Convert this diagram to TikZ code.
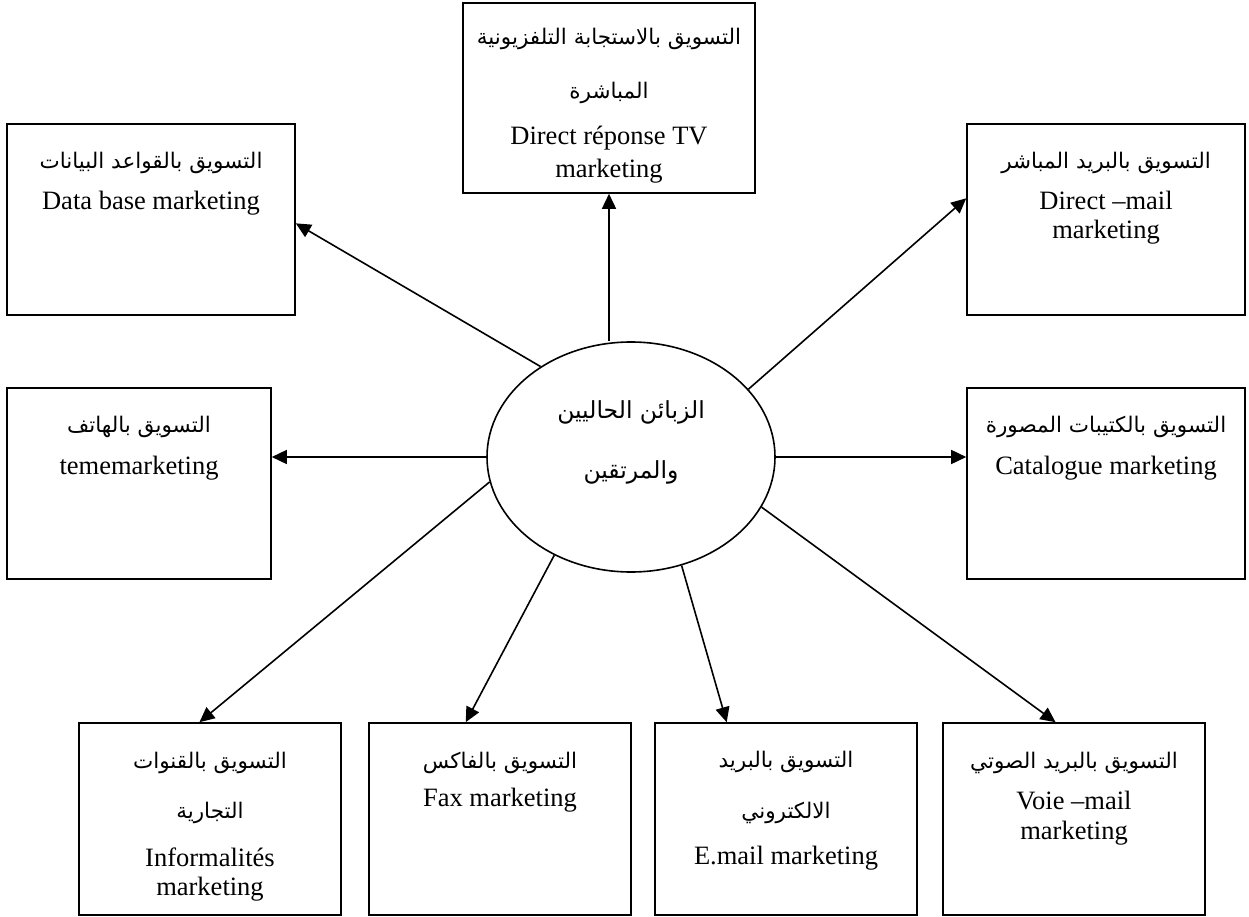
\documentclass[tikz,border=0pt]{standalone}
\usepackage{fontspec}
\setmainfont{Liberation Serif}
\newfontfamily\arabicfont[Script=Arabic]{DejaVu Sans}
\TeXXeTstate=1
\usetikzlibrary{shapes.geometric,arrows.meta,calc}
\newcommand{\artext}[1]{\beginR #1\endR}
\begin{document}
\begin{tikzpicture}[x=1pt,y=-1pt,
  box/.style={draw, line width=1.6pt, rectangle, minimum height=191pt, inner sep=0pt},
  oval/.style={draw, line width=1.6pt, ellipse, minimum width=288pt, minimum height=230pt, inner sep=0pt},
  arr/.style={line width=1.6pt, -{Triangle[length=15pt,width=14pt]}},
  lat/.style={anchor=base, inner sep=0pt, font=\fontsize{26.5}{30}\selectfont},
  arb/.style={anchor=base, inner sep=0pt, font=\arabicfont\fontsize{21.5}{26}\selectfont},
  big/.style={anchor=base, inner sep=0pt, font=\arabicfont\fontsize{23.5}{30}\selectfont}]
\useasboundingbox (0,0) rectangle (1249,917);
% boxes
\node[box, minimum width=292pt, minimum height=190pt] (tv) at (609,98) {};
\node[box, minimum width=288pt] (db) at (151,219.5) {};
\node[box, minimum width=278pt] (dm) at (1106,219.5) {};
\node[box, minimum width=264pt] (tel) at (139,483.5) {};
\node[box, minimum width=278pt] (cat) at (1106,483.5) {};
\node[box, minimum width=262pt, minimum height=192pt] (inf) at (210,819) {};
\node[box, minimum width=262pt, minimum height=192pt] (fax) at (500,819) {};
\node[box, minimum width=262pt, minimum height=192pt] (em) at (786,819) {};
\node[box, minimum width=262pt, minimum height=192pt] (vm) at (1074,819) {};
\node[oval] (c) at (631,457) {};
% centre text
\node[big] (c1) at (631,418) {\artext{الزبائن الحاليين}};
\node[big] (c2) at (631,478) {\artext{والمرتقين}};
% box texts
\node[arb] (tv1) at ($(tv.north)+(0,42)$) {\artext{التسويق بالاستجابة التلفزيونية}};
\node[arb] (tv2) at ($(tv.north)+(0,96)$) {\artext{المباشرة}};
\node[lat] (tv3) at ($(tv.north)+(0,142)$) {Direct réponse TV};
\node[lat] (tv4) at ($(tv.north)+(0,175)$) {marketing};
\node[arb] (db1) at ($(db.north)+(0,45)$) {\artext{التسويق بالقواعد البيانات}};
\node[lat] (db2) at ($(db.north)+(0,86)$) {Data base marketing};
\node[arb] (dm1) at ($(dm.north)+(0,45)$) {\artext{التسويق بالبريد المباشر}};
\node[lat] (dm2) at ($(dm.north)+(0,86)$) {Direct –mail};
\node[lat] (dm3) at ($(dm.north)+(0,115)$) {marketing};
\node[arb] (tel1) at ($(tel.north)+(0,45)$) {\artext{التسويق بالهاتف}};
\node[lat] (tel2) at ($(tel.north)+(0,87)$) {tememarketing};
\node[arb] (cat1) at ($(cat.north)+(0,45)$) {\artext{التسويق بالكتيبات المصورة}};
\node[lat] (cat2) at ($(cat.north)+(0,87)$) {Catalogue marketing};
\node[arb] (inf1) at ($(inf.north)+(0,46)$) {\artext{التسويق بالقنوات}};
\node[arb] (inf2) at ($(inf.north)+(0,96)$) {\artext{التجارية}};
\node[lat] (inf3) at ($(inf.north)+(0,144)$) {Informalités};
\node[lat] (inf4) at ($(inf.north)+(0,173)$) {marketing};
\node[arb] (fax1) at ($(fax.north)+(0,46)$) {\artext{التسويق بالفاكس}};
\node[lat] (fax2) at ($(fax.north)+(0,84)$) {Fax marketing};
\node[arb] (em1) at ($(em.north)+(0,45)$) {\artext{التسويق بالبريد}};
\node[arb] (em2) at ($(em.north)+(0,96)$) {\artext{الالكتروني}};
\node[lat] (em3) at ($(em.north)+(0,142)$) {E.mail marketing};
\node[arb] (vm1) at ($(vm.north)+(0,46)$) {\artext{التسويق بالبريد الصوتي}};
\node[lat] (vm2) at ($(vm.north)+(0,87)$) {Voie –mail};
\node[lat] (vm3) at ($(vm.north)+(0,117)$) {marketing};
% arrows
\draw[arr] (tv.south |- c.north) -- (tv.south);
\draw[arr] (c.135) -- ($(db.north east)!0.52!(db.south east)$);
\draw[arr] (c.30) -- ($(dm.north west)!0.39!(dm.south west)$);
\draw[arr] (c.west) -- (c.west -| tel.east);
\draw[arr] (c.east) -- (c.east -| cat.west);
\draw[arr] (c.190) -- ($(inf.north west)!0.46!(inf.north east)$);
\draw[arr] (c.232) -- ($(fax.north west)!0.37!(fax.north east)$);
\draw[arr] (c.295) -- ($(em.north west)!0.275!(em.north east)$);
\draw[arr] (c.339) -- ($(vm.north west)!0.43!(vm.north east)$);
\end{tikzpicture}
\end{document}
